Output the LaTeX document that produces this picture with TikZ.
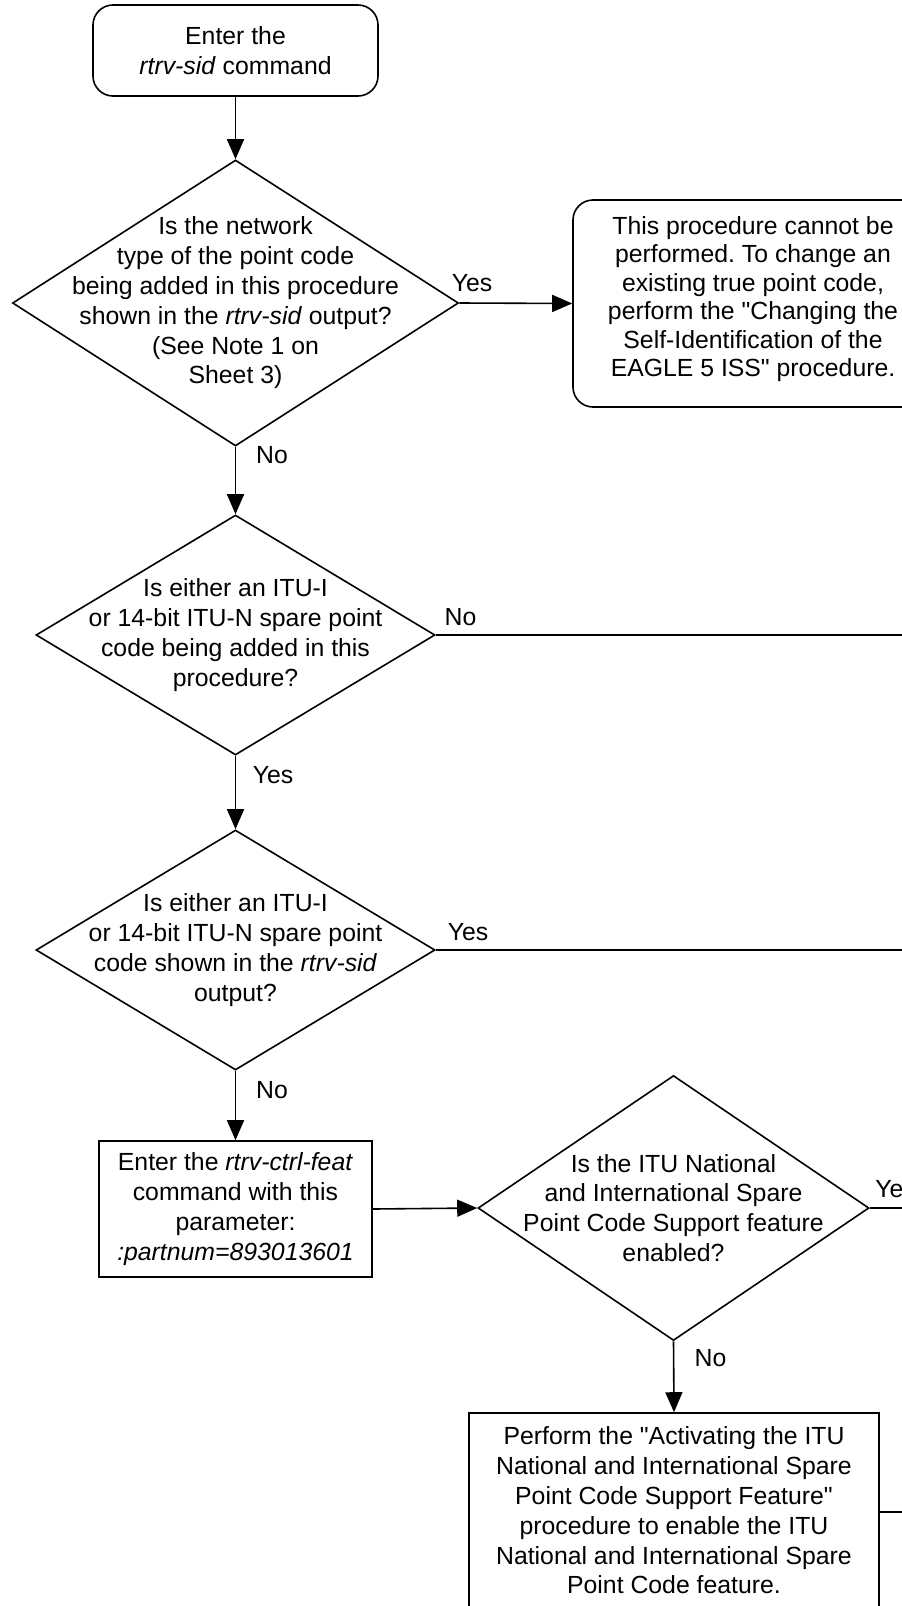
\documentclass[tikz,border=0pt]{standalone}
\usepackage{fontspec}
\setmainfont[Ligatures=TeXOff]{Liberation Sans}
\usetikzlibrary{shapes.geometric,arrows.meta}
\frenchspacing
\begin{document}
\begin{tikzpicture}[x=1pt,y=-1pt,
  line width=1.6pt,
  >={Triangle[length=20pt,width=17pt]},
  font=\fontsize{24.8pt}{29.8pt}\selectfont\frenchspacing,
  base/.style={draw, line width=1.6pt, align=center, inner sep=0pt},
  rbox/.style={base, rectangle, rounded corners=20pt},
  pbox/.style={base, rectangle},
  dec/.style={base, diamond},
  txt/.style={align=center, inner sep=0pt},
  lbl/.style={inner sep=0pt},
  conn/.style={->},
  edge/.style={-}]
\useasboundingbox (0,0) rectangle (902,1606);
\clip (0,0) rectangle (902,1606);

% nodes
\node[rbox, minimum width=285pt, minimum height=91pt] (start) at (235.5,50.5)
  {Enter the\\\textit{rtrv-sid} command};

\node[dec, minimum width=446pt, minimum height=286pt] (d1) at (235.5,303) {};
\node[txt] (d1t) at (235.5,303) {Is the network\\type of the point code\\being added in this procedure\\shown in the \textit{rtrv-sid} output?\\(See Note 1 on\\Sheet 3)};

\node[rbox, minimum width=360pt, minimum height=207pt] (endbox) at (753,303.5) {};
\node[txt, font=\fontsize{24.8pt}{28.4pt}\selectfont\frenchspacing] (endt) at (753,299)
  {This procedure cannot be\\performed. To change an\\existing true point code,\\perform the "Changing the\\Self-Identification of the\\EAGLE 5 ISS" procedure.};

\node[dec, minimum width=399pt, minimum height=240pt] (d2) at (235.5,635) {};
\node[txt] (d2t) at (235.5,635) {Is either an ITU-I\\or 14-bit ITU-N spare point\\code being added in this\\procedure?};

\node[dec, minimum width=399pt, minimum height=240pt] (d3) at (235.5,950) {};
\node[txt] (d3t) at (235.5,950) {Is either an ITU-I\\or 14-bit ITU-N spare point\\code shown in the \textit{rtrv-sid}\\output?};

\node[pbox, minimum width=273pt, minimum height=136pt] (feat) at (235.5,1209)
  {Enter the \textit{rtrv-ctrl-feat}\\command with this\\parameter:\\\textit{:partnum=893013601}};

\node[dec, minimum width=391pt, minimum height=265pt] (d4) at (673.5,1208) {};
\node[txt] (d4t) at (673.5,1208) {Is the ITU National\\and International Spare\\Point Code Support feature\\enabled?};

\node[pbox, minimum width=410pt, minimum height=195pt] (act) at (674,1510.5)
  {Perform the "Activating the ITU\\National and International Spare\\Point Code Support Feature"\\procedure to enable the ITU\\National and International Spare\\Point Code feature.};

% off-page ends
\coordinate (o2) at (902,635);
\coordinate (o3) at (902,950);
\coordinate (o4) at (902,1208);
\coordinate (o5) at (902,1512);

% connectors
\draw[conn] (start.south) -- (d1.north);
\draw[conn] (d1.east) -- (endbox.west);
\draw[conn] (d1.south) -- (d2.north);
\draw[edge] (d2.east) -- (o2);
\draw[conn] (d2.south) -- (d3.north);
\draw[edge] (d3.east) -- (o3);
\draw[conn] (d3.south) -- (feat.north);
\draw[conn] (feat.east) -- (d4.west);
\draw[edge] (d4.east) -- (o4);
\draw[conn] (d4.south) -- (act.north);
\draw[edge] (act.east |- o5) -- (o5);

% labels
\node[lbl] (l1) at (472,283) {Yes};
\node[lbl] (l2) at (272,455) {No};
\node[lbl] (l3) at (460.5,617) {No};
\node[lbl] (l4) at (273,775) {Yes};
\node[lbl] (l5) at (468,932) {Yes};
\node[lbl] (l6) at (272,1090) {No};
\node[lbl, anchor=west] (l7) at (874.5,1189) {Yes};
\node[lbl] (l8) at (710.5,1358) {No};
\end{tikzpicture}
\end{document}
